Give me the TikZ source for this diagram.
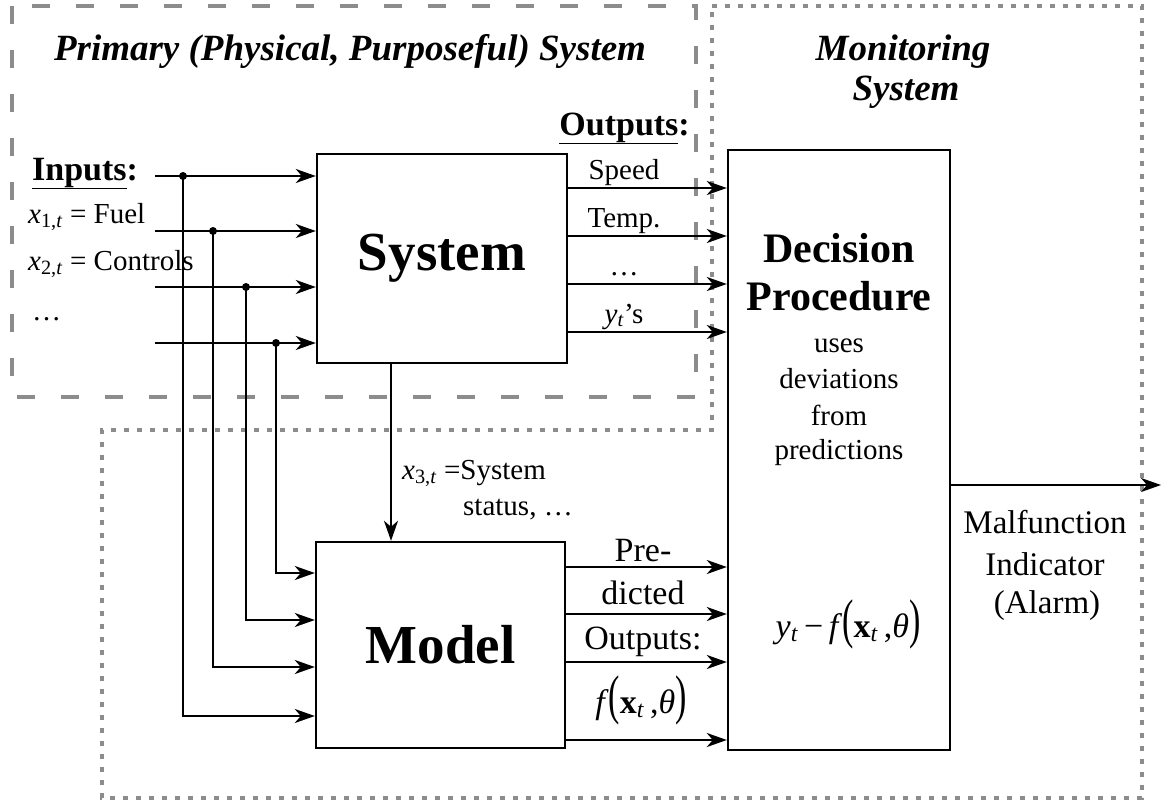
\documentclass[tikz,border=0pt]{standalone}
\usepackage{fontspec}
\setmainfont{Liberation Serif}
\usetikzlibrary{arrows.meta,calc}
\tikzset{
  blk/.style={draw=black,line width=2.4pt,inner sep=0pt},
  wire/.style={line width=2.2pt},
  arr/.style={wire,-{Stealth[length=20pt,width=14pt,inset=6pt]}},
  prim/.style={draw=black!45,line width=4.5pt,dash pattern=on 18pt off 26pt},
  mon/.style={draw=black!45,line width=4.5pt,dash pattern=on 5pt off 8pt},
  ttl/.style={inner sep=0pt,font=\fontsize{37}{40}\selectfont\bfseries\itshape},
  head/.style={inner sep=0pt,font=\fontsize{34}{40}\selectfont\bfseries},
  bigfont/.style={font=\fontsize{55}{60}\selectfont\bfseries},
  decfont/.style={inner sep=0pt,font=\fontsize{42}{48}\selectfont\bfseries},
  lbl/.style={inner sep=0pt,font=\fontsize{29}{34}\selectfont},
  plbl/.style={inner sep=0pt,font=\fontsize{34}{40}\selectfont},
  alrm/.style={inner sep=0pt,font=\fontsize{33}{40}\selectfont}
}
\newcommand{\tparl}{\scalebox{1}[1.6]{(}}
\newcommand{\tparr}{\scalebox{1}[1.6]{)}}
\newcommand{\xvec}{\textit{f}\tparl\textbf{x}\textsubscript{\textit{t}}\,,\textit{θ}\tparr}

\begin{document}
\begin{tikzpicture}[x=1pt,y=-1pt]
  \useasboundingbox (0,0) rectangle (1161,808);
  % regions
  \draw[prim] (12,6) rectangle (696,397);
  \draw[mon] (712,6) -- (1142,6) -- (1142,798) -- (102,798) -- (102,430) -- (712,430) -- cycle;
  \node[ttl,anchor=base] (ptitle) at (350,60) {Primary (Physical, Purposeful) System};
  \node[ttl,anchor=base] (mtitle) at (903,60) {Monitoring};
  \node[ttl,anchor=base] (mtitle2) at (906,100) {System};

  % blocks
  \node[blk,bigfont,minimum width=250pt,minimum height=209pt] (sys) at (442,258.5) {System};
  \node[blk,bigfont,minimum width=249pt,minimum height=206pt] (mod) at (440.5,645) {Model};
  \node[blk,minimum width=222pt,minimum height=600pt] (dec) at (839,450) {};

  % inputs
  \node[head,anchor=base west] (inp) at (32,180) {\underline{Inputs}:};
  \node[lbl,anchor=base west] (x1) at (28,223) {\textit{x}\textsubscript{1,\textit{t}} = Fuel};
  \node[lbl,anchor=base west] (x2) at (28,270) {\textit{x}\textsubscript{2,\textit{t}} = Controls};
  \node[lbl,anchor=base west] (xd) at (32,320) {\dots};
  \foreach \k/\y/\jx/\my in {1/176/183/716, 2/231/213/667, 3/287/246/620, 4/343/276/573}{
    \coordinate (in\k) at (155,\y);
    \draw[arr] (in\k) -- (in\k -| sys.west);
    \fill (\jx,\y) coordinate (jn\k) circle (4);
    \draw[arr] (jn\k) |- (mod.west |- 0,\my);
  }

  % outputs of the system
  \node[head,anchor=base east] (outp) at (690,135) {\underline{Outputs}:};
  \foreach \y/\t in {188/Speed, 236/Temp., 284/\dots, 332/\textit{y}\textsubscript{\textit{t}}’s}{
    \draw[arr] (sys.east |- 0,\y) -- (dec.west |- 0,\y);
    \node[lbl,anchor=base] at (624,\y-9) {\t};
  }

  % system status into the model
  \draw[arr] (sys.south -| 391,0) -- (mod.north -| 391,0);
  \node[lbl,anchor=base west] (x3) at (402,479) {\textit{x}\textsubscript{3,\textit{t}} =System};
  \node[lbl,anchor=base west] (x3b) at (463,515) {status, \dots};

  % predicted outputs
  \foreach \y in {567,614,662,740}{
    \draw[arr] (mod.east |- 0,\y) -- (dec.west |- 0,\y);
  }
  \node[plbl,anchor=base] (pre) at (643,561) {Pre-};
  \node[plbl,anchor=base] (dic) at (643,604) {dicted};
  \node[plbl,anchor=base] (pout) at (643,649) {Outputs:};
  \node[plbl,anchor=base] (fx) at (641,713) {\xvec};

  % decision procedure
  \node[decfont,anchor=base] (dp1) at (839,262) {Decision};
  \node[decfont,anchor=base] (dp2) at (839,310) {Procedure};
  \foreach \t/\y [count=\i] in {uses/352, deviations/388, from/425, predictions/459}{
    \node[lbl,anchor=base] (dl\i) at (839,\y) {\t};
  }
  \node[plbl,anchor=base] (dev) at (848,637) {\textit{y}\textsubscript{\textit{t}}\,−\,\xvec};

  % alarm
  \coordinate (alarm) at (1161,485);
  \draw[arr] (dec.east |- alarm) -- (alarm);
  \node[alrm,anchor=base] (al1) at (1045,533) {Malfunction};
  \node[alrm,anchor=base] (al2) at (1045,575) {Indicator};
  \node[alrm,anchor=base] (al3) at (1047,613) {(Alarm)};
\end{tikzpicture}
\end{document}
